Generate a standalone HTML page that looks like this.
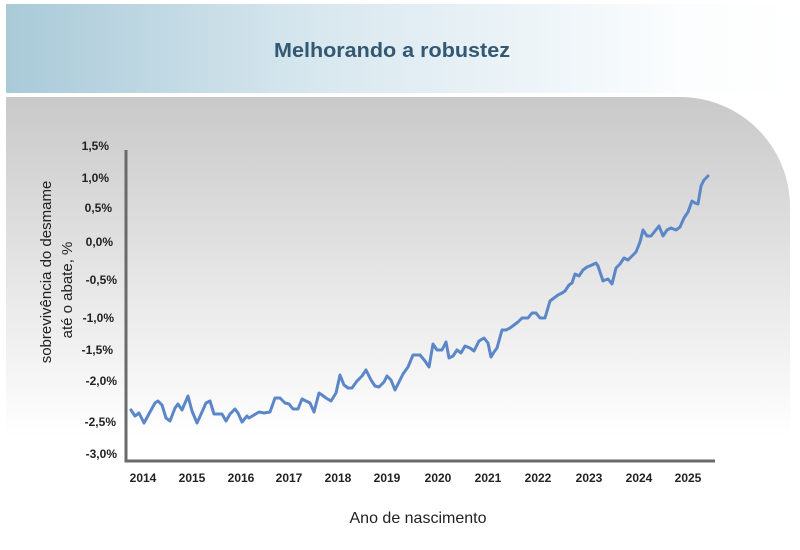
<!DOCTYPE html>
<html><head><meta charset="utf-8"><style>
html,body{margin:0;padding:0;background:#fff;width:800px;height:550px;overflow:hidden}
</style></head><body>
<svg width="800" height="550" xmlns="http://www.w3.org/2000/svg" font-family="Liberation Sans, sans-serif">
<defs>
<linearGradient id="hdr" x1="0" x2="1" y1="0" y2="0">
<stop offset="0" stop-color="#a9cad8"/><stop offset="0.4" stop-color="#d9e8ef"/><stop offset="0.85" stop-color="#fbfdfe"/><stop offset="1" stop-color="#ffffff"/>
</linearGradient>
<linearGradient id="pnl" x1="0" x2="0" y1="0" y2="1">
<stop offset="0" stop-color="#c9c9c9"/><stop offset="0.75" stop-color="#ffffff"/><stop offset="1" stop-color="#ffffff"/>
</linearGradient>
</defs>
<rect x="6" y="4" width="794" height="89" fill="url(#hdr)"/>
<text x="392" y="57" text-anchor="middle" font-size="20" font-weight="bold" fill="#335874" textLength="236" lengthAdjust="spacingAndGlyphs">Melhorando a robustez</text>
<path d="M6 97 H680 A110 110 0 0 1 790 207 V550 H6 Z" fill="url(#pnl)"/>
<g font-size="12" font-weight="bold" fill="#222" text-anchor="end">
<text x="109" y="150">1,5%</text>
<text x="109" y="182">1,0%</text>
<text x="112" y="212">0,5%</text>
<text x="113" y="246">0,0%</text>
<text x="117" y="284">-0,5%</text>
<text x="114" y="322">-1,0%</text>
<text x="113" y="354">-1,5%</text>
<text x="117" y="385">-2,0%</text>
<text x="116" y="426">-2,5%</text>
<text x="117" y="458">-3,0%</text>
</g>
<g font-size="12" font-weight="bold" fill="#222" text-anchor="middle">
<text x="143" y="482">2014</text><text x="192" y="482">2015</text><text x="241" y="482">2016</text>
<text x="289" y="482">2017</text><text x="338" y="482">2018</text><text x="387" y="482">2019</text>
<text x="438" y="482">2020</text><text x="488" y="482">2021</text><text x="538" y="482">2022</text>
<text x="589" y="482">2023</text><text x="639" y="482">2024</text><text x="688" y="482">2025</text>
</g>
<text x="418" y="523" text-anchor="middle" font-size="16" fill="#222">Ano de nascimento</text>
<text transform="translate(51,272) rotate(-90)" text-anchor="middle" font-size="15" fill="#222">sobrevivência do desmame</text>
<text transform="translate(72,290) rotate(-90)" text-anchor="middle" font-size="15" fill="#222">até o abate, %</text>
<path d="M126 150 V461 H715" fill="none" stroke="#6a6a6a" stroke-width="3"/>
<polyline fill="none" stroke="#5b87c8" stroke-width="3" stroke-linejoin="round" stroke-linecap="round" points="131,410 135,416 139,413 144,423 150,412 155,403 158,401 162,405 166,418 170,421 175,408 178,404 182,410 188,396 192,411 197,423 202,412 206,403 210,401 214,414 219,414 222,414 226,421 230,414 235,409 238,413 242,422 247,416 249,418 254,415 259,412 264,413 270,412 275,398 280,398 285,403 289,404 293,409 298,409 302,399 306,401 310,403 314,412 319,393 322,395 326,398 331,401 336,393 340,375 344,385 348,388 352,388 357,381 362,376 366,370 371,380 375,386 379,387 384,382 387,376 391,380 395,390 399,382 403,374 408,367 413,355 420,355 425,361 429,367 433,344 437,350 442,350 446,342 449,358 453,356 457,350 461,353 465,346 470,348 474,351 479,341 484,338 488,343 491,357 494,352 497,348 502,330 506,330 510,328 514,325 518,322 522,318 528,318 532,313 536,313 540,318 545,318 550,301 554,298 558,295 562,293 565,291 569,285 572,283 575,274 579,276 583,270 587,267 592,265 596,263 598,266 603,281 605,280 608,279 612,284 616,268 620,264 624,258 628,260 632,256 636,252 640,242 643,230 647,236 651,236 655,231 659,226 663,236 667,230 671,228 676,230 680,227 684,218 688,212 692,201 695,203 698,204 701,186 704,180 708,176"/>
</svg>
</body></html>
